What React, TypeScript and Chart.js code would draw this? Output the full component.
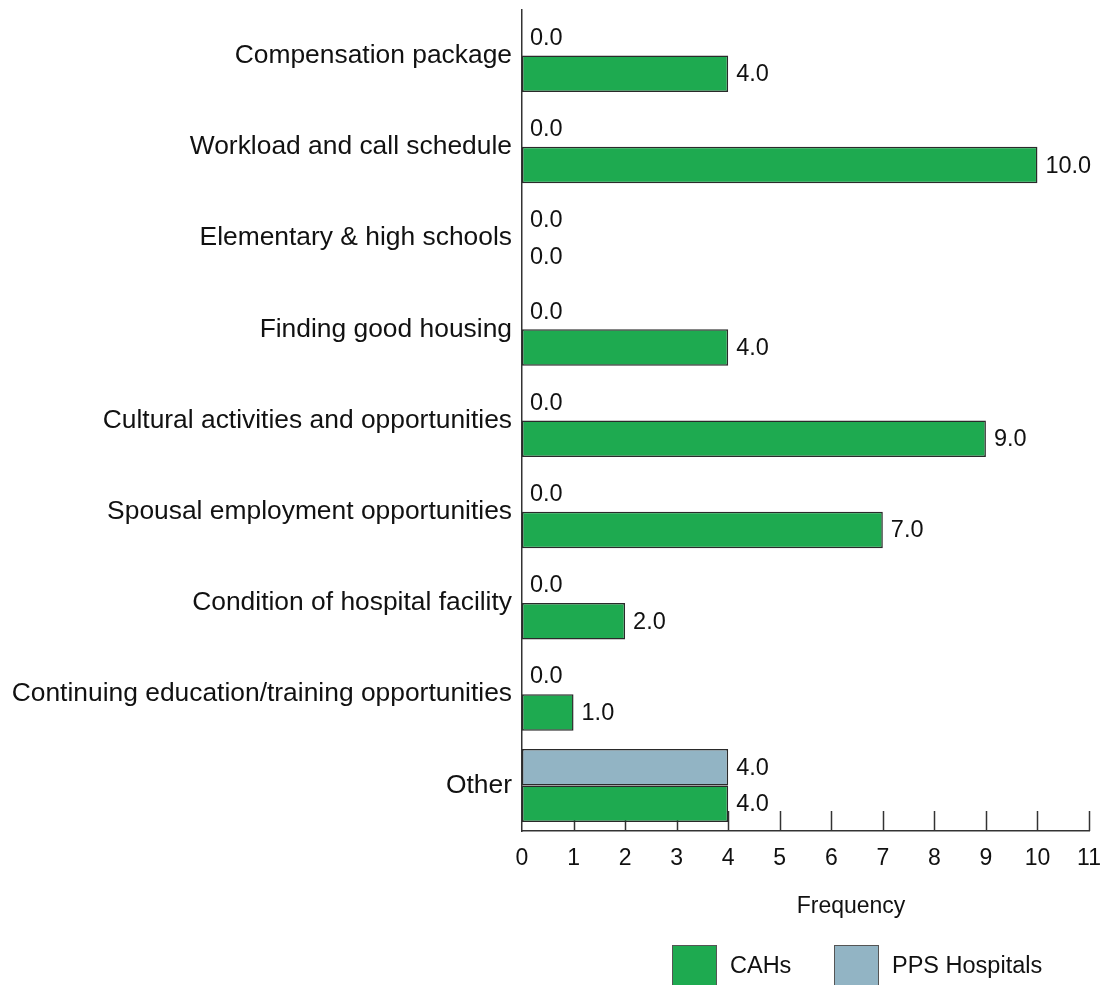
import React, { useEffect, useRef } from "react";
import { Chart, registerables } from "chart.js";

Chart.register(...registerables);

const categories = [
  "Compensation package",
  "Workload and call schedule",
  "Elementary & high schools",
  "Finding good housing",
  "Cultural activities and opportunities",
  "Spousal employment opportunities",
  "Condition of hospital facility",
  "Continuing education/training opportunities",
  "Other",
];
const ppsValues = [0, 0, 0, 0, 0, 0, 0, 0, 4];
const cahValues = [4, 10, 0, 4, 9, 7, 2, 1, 4];
const xTicks = [0, 1, 2, 3, 4, 5, 6, 7, 8, 9, 10, 11];
const axisTitle = "Frequency";
const legendItems = [
  { label: "CAHs", color: "#1EAA50" },
  { label: "PPS Hospitals", color: "#92B4C4" },
];

const FONT = "'Liberation Sans', Arial, Helvetica, sans-serif";

export default function App() {
  const ref = useRef<HTMLCanvasElement>(null);
  useEffect(() => {
    if (!ref.current) return;
    const overlay = {
      id: "overlay",
      beforeDatasetsDraw(chart: any) {
        const ctx = chart.ctx;
        ctx.save();
        const xs = chart.scales.x;
        const bottom = chart.chartArea.bottom;
        ctx.strokeStyle = "#333";
        ctx.lineWidth = 1.5;
        xTicks.forEach((t) => {
          if (t === 0) return;
          const px = Math.round(xs.getPixelForValue(t)) + 0.5;
          ctx.beginPath();
          ctx.moveTo(px, bottom);
          ctx.lineTo(px, bottom - 20);
          ctx.stroke();
        });
        ctx.restore();
      },
      afterDatasetsDraw(chart: any) {
        const ctx = chart.ctx;
        ctx.save();
        ctx.font = `23.5px ${FONT}`;
        ctx.fillStyle = "#111";
        ctx.textAlign = "left";
        ctx.textBaseline = "middle";
        chart.data.datasets.forEach((ds: any, di: number) => {
          const meta = chart.getDatasetMeta(di);
          meta.data.forEach((el: any, i: number) => {
            const v = ds.data[i];
            ctx.fillText(Number(v).toFixed(1), el.x + 8, el.y + 1);
          });
        });
        ctx.restore();
      },
      afterDraw(chart: any) {
        const ctx = chart.ctx;
        ctx.save();
        ctx.fillStyle = "#111";
        ctx.font = `23px ${FONT}`;
        ctx.textAlign = "center";
        ctx.textBaseline = "middle";
        ctx.fillText(axisTitle, 851, 907);
        // legend
        const boxes = [672, 834];
        ctx.font = `23.5px ${FONT}`;
        ctx.textAlign = "left";
        legendItems.forEach((it, i) => {
          const x = boxes[i];
          ctx.fillStyle = it.color;
          ctx.fillRect(x, 945, 44, 42);
          ctx.strokeStyle = "#555";
          ctx.lineWidth = 1;
          ctx.strokeRect(x + 0.5, 945.5, 44, 42);
          ctx.fillStyle = "#111";
          ctx.fillText(it.label, x + 58, 967);
        });
        ctx.restore();
      },
    };
    const chart = new Chart(ref.current, {
      type: "bar",
      data: {
        labels: categories,
        datasets: [
          {
            label: "PPS Hospitals",
            data: ppsValues,
            backgroundColor: "#92B4C4",
            borderColor: "#2a2a2a",
            borderWidth: 1.5,
            borderSkipped: false,
            categoryPercentage: 0.8,
            barPercentage: 1,
          },
          {
            label: "CAHs",
            data: cahValues,
            backgroundColor: "#1EAA50",
            borderColor: "#2a2a2a",
            borderWidth: 1.5,
            borderSkipped: false,
            categoryPercentage: 0.8,
            barPercentage: 1,
          },
        ],
      },
      options: {
        indexAxis: "y",
        animation: false,
        responsive: false,
        maintainAspectRatio: false,
        layout: { padding: { top: 10, right: 13, left: 0, bottom: 0 } },
        plugins: {
          legend: { display: false },
          tooltip: { enabled: false },
        },
        scales: {
          x: {
            min: 0,
            max: 11,
            afterFit: (s: any) => {
              s.height = 154;
              s.paddingLeft = 0;
              s.paddingRight = 0;
            },
            afterBuildTicks: (s: any) => {
              s.ticks = xTicks.map((v) => ({ value: v }));
            },
            grid: { display: false, drawTicks: false },
            border: { display: true, color: "#333", width: 1.5 },
            ticks: {
              padding: 14,
              color: "#111",
              font: { family: FONT, size: 23 },
              maxRotation: 0,
              autoSkip: false,
            },
          },
          y: {
            afterFit: (s: any) => {
              s.width = 522;
              s.paddingTop = 0;
              s.paddingBottom = 0;
            },
            grid: { display: false, drawTicks: false },
            border: { display: true, color: "#333", width: 1.5 },
            ticks: {
              padding: 10,
              color: "#111",
              font: { family: FONT, size: 26.4 },
              autoSkip: false,
            },
          },
        },
      },
      plugins: [overlay],
    } as any);
    return () => chart.destroy();
  }, []);
  return (
    <div style={{ position: "fixed", left: 0, top: 0, width: 1102, height: 985, background: "#fff" }}>
      <canvas ref={ref} width={1102} height={985} style={{ width: 1102, height: 985 }} />
    </div>
  );
}
